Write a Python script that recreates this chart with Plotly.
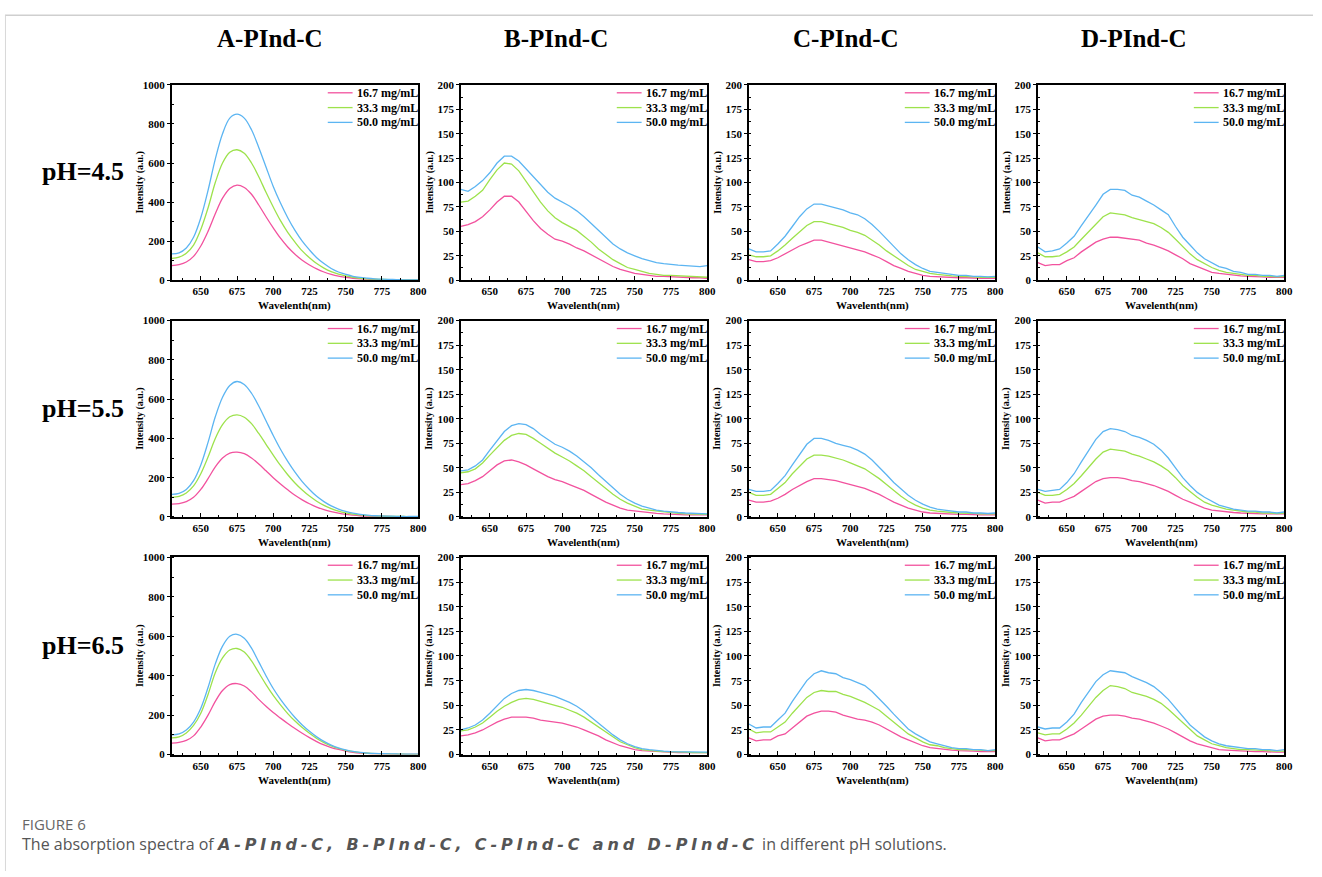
import plotly.graph_objects as go

# ---------------- DATA ----------------
wavelength = [630, 635, 640, 645, 650, 655, 660, 665, 670, 675, 680, 685, 690, 695, 700, 705, 710,
              715, 720, 725, 730, 735, 740, 745, 750, 755, 760, 765, 770, 775, 780, 785, 790, 795, 800]

compounds = ["A-PInd-C", "B-PInd-C", "C-PInd-C", "D-PInd-C"]
ph_labels = ["pH=4.5", "pH=5.5", "pH=6.5"]
series_names = ["16.7 mg/mL", "33.3 mg/mL", "50.0 mg/mL"]
y_max = [1000, 200, 200, 200]
y_dtick = [200, 25, 25, 25]

# A-PInd-C
A45_16 = [75, 80, 93, 122, 175, 250, 340, 420, 470, 487, 475, 440, 385, 325, 268, 215, 170, 133, 102, 78, 58, 42, 30, 21, 15, 10, 7, 5, 3, 2, 2, 1, 1, 1, 1]
A45_33 = [112, 118, 138, 180, 260, 370, 500, 600, 655, 668, 650, 600, 530, 450, 375, 305, 245, 195, 150, 115, 85, 62, 44, 31, 22, 15, 10, 7, 5, 4, 3, 2, 2, 1, 1]
A45_50 = [135, 140, 165, 220, 320, 460, 620, 750, 830, 850, 830, 770, 680, 580, 480, 395, 320, 255, 200, 155, 115, 85, 60, 42, 30, 20, 14, 10, 7, 5, 4, 3, 2, 2, 2]
A55_16 = [65, 68, 78, 100, 140, 195, 255, 300, 325, 330, 322, 300, 270, 235, 200, 168, 138, 110, 87, 67, 50, 37, 27, 19, 13, 9, 6, 4, 3, 2, 2, 1, 1, 1, 1]
A55_33 = [100, 105, 122, 158, 220, 305, 400, 470, 510, 520, 508, 475, 425, 370, 315, 262, 215, 173, 137, 106, 80, 59, 42, 30, 21, 14, 10, 7, 5, 4, 3, 2, 2, 1, 1]
A55_50 = [115, 120, 140, 185, 265, 380, 510, 610, 670, 690, 675, 630, 565, 490, 415, 345, 283, 228, 180, 140, 105, 78, 56, 40, 28, 19, 13, 9, 6, 5, 4, 3, 2, 2, 2]
A65_16 = [58, 62, 72, 95, 140, 200, 270, 325, 355, 360, 348, 318, 280, 245, 213, 185, 158, 132, 108, 86, 66, 49, 36, 26, 18, 12, 8, 6, 4, 3, 2, 1, 1, 1, 1]
A65_33 = [85, 90, 110, 148, 210, 305, 415, 490, 530, 538, 520, 475, 415, 355, 300, 252, 208, 170, 137, 108, 82, 61, 44, 31, 22, 15, 10, 7, 5, 4, 3, 2, 2, 1, 1]
A65_50 = [100, 105, 125, 165, 235, 340, 460, 550, 600, 610, 590, 540, 470, 400, 335, 280, 232, 188, 150, 118, 90, 67, 48, 34, 24, 16, 11, 8, 6, 5, 4, 3, 2, 2, 2]

# B-PInd-C
B45_16 = [55, 57, 60, 65, 72, 80, 86, 86, 80, 70, 61, 53, 47, 42, 40, 37, 33, 30, 26, 22, 18, 14, 11, 9, 7, 6, 5, 4, 4, 3.5, 3, 3, 2.5, 2.5, 2]
B45_33 = [80, 81, 86, 92, 103, 113, 120, 119, 112, 101, 90, 80, 71, 64, 59, 55, 51, 45, 39, 32, 26, 21, 17, 13, 11, 9, 7, 6, 5, 5, 4.5, 4, 3.5, 3, 3]
B45_50 = [93, 91, 96, 102, 110, 120, 127, 127, 122, 114, 106, 98, 90, 84, 80, 76, 71, 65, 58, 51, 44, 37, 32, 28, 25, 22, 20, 18, 17, 16, 15.5, 15, 14.5, 14, 15]
B55_16 = [33, 34, 37, 41, 47, 53, 57, 58, 56, 53, 49, 45, 41, 38, 36, 33, 30, 27, 23, 19, 15, 12, 9, 7, 6, 5, 4, 3.5, 3, 2.5, 2.5, 2, 2, 2, 2]
B55_33 = [45, 46, 49, 55, 63, 71, 78, 83, 85, 84, 80, 75, 70, 65, 61, 57, 52, 47, 41, 35, 29, 23, 18, 14, 11, 8, 7, 6, 5, 4, 3.5, 3, 3, 2.5, 2.5]
B55_50 = [47, 48, 52, 58, 68, 78, 87, 93, 95, 94, 90, 84, 79, 74, 71, 67, 62, 56, 50, 43, 36, 29, 23, 18, 14, 11, 9, 7, 6, 5, 4.5, 4, 3.5, 3, 3]
B65_16 = [19, 20, 22, 25, 29, 33, 36, 38, 38, 38, 37, 35, 34, 33, 32, 30, 28, 25, 22, 19, 15, 12, 9, 7, 5, 4, 3.5, 3, 2.5, 2, 2, 2, 2, 2, 2]
B65_33 = [24, 25, 28, 32, 38, 44, 49, 53, 56, 57, 56, 54, 52, 50, 48, 45, 42, 38, 33, 28, 23, 18, 13, 10, 7, 5, 4, 3.5, 3, 3, 2.5, 2.5, 2, 2, 2]
B65_50 = [25, 27, 30, 35, 42, 50, 57, 62, 65, 66, 65, 63, 61, 59, 56, 53, 49, 44, 38, 32, 26, 20, 15, 11, 8, 6, 5, 4, 3.5, 3, 3, 3, 2.5, 2.5, 2.5]

# C-PInd-C
C45_16 = [21, 19, 19, 20, 23, 27, 31, 35, 38, 41, 41, 39, 37, 35, 33, 31, 29, 26, 23, 19, 15, 12, 9, 7, 5, 4, 3.5, 3, 3, 2.5, 2.5, 2, 2, 2, 2]
C45_33 = [26, 24, 24, 25, 30, 36, 43, 50, 56, 60, 60, 58, 56, 54, 51, 49, 46, 41, 36, 30, 25, 20, 15, 11, 9, 7, 6, 5, 4.5, 4, 4, 3.5, 3, 3, 3]
C45_50 = [32, 29, 29, 30, 37, 45, 55, 65, 73, 78, 78, 76, 74, 72, 69, 67, 63, 57, 50, 42, 34, 27, 21, 16, 12, 9, 8, 7, 6, 5, 5, 4, 4, 3.5, 4]
C55_16 = [17, 15, 15, 16, 19, 23, 28, 32, 36, 39, 39, 38, 37, 35, 33, 31, 29, 26, 23, 19, 15, 12, 9, 7, 5, 4, 3.5, 3, 3, 2.5, 2.5, 2, 2, 2, 2]
C55_33 = [25, 22, 22, 23, 29, 35, 44, 52, 59, 63, 63, 62, 60, 58, 55, 52, 49, 44, 39, 33, 27, 21, 16, 12, 9, 7, 6, 5, 4.5, 4, 4, 3.5, 3, 3, 3]
C55_50 = [28, 26, 26, 27, 34, 42, 53, 64, 74, 80, 80, 78, 75, 73, 71, 68, 64, 58, 51, 43, 35, 28, 22, 17, 13, 10, 8, 7, 6, 5, 5, 4, 4, 3.5, 4]
C65_16 = [17, 14, 15, 15, 19, 21, 27, 33, 39, 42, 44, 44, 43, 40, 38, 36, 35, 33, 30, 26, 22, 18, 15, 12, 9, 7, 6, 5, 4.5, 4, 4, 3.5, 3, 3, 3]
C65_33 = [26, 22, 23, 23, 28, 33, 42, 50, 58, 63, 65, 64, 64, 61, 59, 56, 53, 49, 45, 39, 33, 27, 21, 17, 13, 10, 9, 7, 6, 5, 5, 4.5, 4.5, 4, 4]
C65_50 = [31, 27, 28, 28, 35, 42, 54, 65, 75, 82, 85, 83, 82, 78, 76, 73, 70, 64, 57, 49, 41, 33, 26, 21, 17, 13, 11, 9, 7, 6, 6, 5, 5, 4, 5]

# D-PInd-C
D45_16 = [18, 15, 16, 16, 20, 23, 29, 34, 39, 42, 44, 44, 43, 42, 41, 38, 36, 33, 30, 26, 22, 17, 14, 11, 8, 7, 6, 5, 4.5, 4, 4, 3.5, 3, 3, 3]
D45_33 = [28, 24, 24, 25, 29, 34, 42, 50, 58, 65, 69, 68, 67, 64, 62, 60, 58, 54, 49, 42, 34, 27, 21, 17, 13, 10, 8, 7, 6, 5, 5, 4, 4, 3.5, 4]
D45_50 = [34, 29, 30, 32, 38, 45, 56, 66, 77, 88, 93, 93, 92, 87, 85, 81, 77, 72, 67, 55, 44, 36, 28, 22, 18, 14, 12, 9, 8, 6, 6, 5, 5, 4, 5]
D55_16 = [17, 14, 15, 15, 18, 21, 26, 31, 36, 39, 40, 40, 39, 37, 36, 34, 32, 29, 26, 22, 18, 15, 12, 9, 7, 6, 5, 4.5, 4, 3.5, 3.5, 3, 3, 3, 3]
D55_33 = [25, 22, 22, 23, 28, 34, 42, 51, 59, 66, 69, 68, 67, 64, 62, 59, 56, 52, 47, 40, 32, 26, 20, 15, 12, 10, 8, 7, 6, 5, 5, 4, 4, 3.5, 4]
D55_50 = [28, 26, 27, 28, 35, 44, 56, 68, 79, 87, 90, 89, 87, 83, 81, 78, 74, 68, 60, 50, 40, 32, 25, 20, 16, 12, 10, 8, 7, 6, 6, 5, 5, 4, 5]
D65_16 = [17, 14, 15, 15, 18, 21, 26, 31, 36, 39, 40, 40, 39, 37, 36, 34, 32, 29, 26, 22, 18, 14, 11, 9, 7, 5, 4.5, 4, 3.5, 3, 3, 3, 2.5, 2.5, 2.5]
D65_33 = [22, 20, 21, 21, 26, 32, 40, 49, 58, 65, 70, 69, 67, 63, 61, 59, 56, 52, 46, 39, 32, 25, 19, 15, 11, 9, 7, 6, 5, 5, 4.5, 4, 4, 3.5, 3.5]
D65_50 = [28, 26, 27, 27, 33, 41, 53, 64, 74, 81, 85, 84, 83, 79, 76, 73, 69, 63, 56, 47, 38, 30, 24, 18, 14, 11, 9, 8, 7, 6, 6, 5, 5, 4, 5]

panel_data = [
    [[A45_16, A45_33, A45_50], [B45_16, B45_33, B45_50], [C45_16, C45_33, C45_50], [D45_16, D45_33, D45_50]],
    [[A55_16, A55_33, A55_50], [B55_16, B55_33, B55_50], [C55_16, C55_33, C55_50], [D55_16, D55_33, D55_50]],
    [[A65_16, A65_33, A65_50], [B65_16, B65_33, B65_50], [C65_16, C65_33, C65_50], [D65_16, D65_33, D65_50]],
]

# ---------------- STYLE / LAYOUT ----------------
W, H = 1322, 877
colors = ["#F2529E", "#9DE24C", "#5CB5F2"]
col_px = [(173, 421), (464, 712), (754, 1002), (1045, 1293)]
row_px = [(80, 278), (319, 518), (559, 759)]
SERIF = "Liberation Serif"


def px_x(v):
    return v / W


def px_y(v):
    return 1 - v / H


fig = go.Figure()
layout = dict(
    width=W, height=H,
    margin=dict(l=0, r=0, t=0, b=0),
    paper_bgcolor="white", plot_bgcolor="white",
    showlegend=False,
)
annotations = []
shapes = []

for r in range(3):
    for c in range(4):
        k = r * 4 + c + 1
        xa = "xaxis" if k == 1 else f"xaxis{k}"
        ya = "yaxis" if k == 1 else f"yaxis{k}"
        xref = "x" if k == 1 else f"x{k}"
        yref = "y" if k == 1 else f"y{k}"
        smooth = "spline" if c == 0 else "linear"
        x0, x1 = col_px[c]
        y0, y1 = row_px[r]
        for s in range(3):
            fig.add_trace(go.Scatter(
                x=wavelength, y=panel_data[r][c][s], mode="lines",
                name=series_names[s], line=dict(color=colors[s], width=1.3, shape=smooth),
                xaxis=xref, yaxis=yref, showlegend=False,
            ))
            # legend key (line sample + label), placed in the panel's top-right corner
            ly = y0 + 8 + 15 * s
            shapes.append(dict(
                type="line", xref="paper", yref="paper",
                x0=px_x(x1 - 91), x1=px_x(x1 - 66), y0=px_y(ly), y1=px_y(ly),
                line=dict(color=colors[s], width=1.3),
            ))
            annotations.append(dict(
                text=series_names[s], x=px_x(x1 - 64), y=px_y(ly),
                xref="paper", yref="paper", showarrow=False,
                xanchor="left", yanchor="middle",
                font=dict(family=SERIF, size=12, color="black", weight="bold"),
            ))
        layout[xa] = dict(
            domain=[px_x(x0), px_x(x1)], anchor=yref, range=[630, 800],
            tickmode="array", tickvals=[650, 675, 700, 725, 750, 775, 800],
            ticks="inside", ticklen=4, tickwidth=1, tickcolor="black",
            minor=dict(ticks="inside", ticklen=2, tickcolor="black", dtick=12.5, tick0=637.5),
            showline=True, mirror=True, linecolor="black", linewidth=1.5,
            showgrid=False, zeroline=False,
            tickfont=dict(family=SERIF, size=11, color="black", weight="bold"),
        )
        layout[ya] = dict(
            domain=[px_y(y1), px_y(y0)], anchor=xref, range=[0, y_max[c]],
            dtick=y_dtick[c], tick0=0,
            ticks="outside", ticklen=3, tickwidth=1, tickcolor="black",
            minor=dict(ticks="inside", ticklen=2, tickcolor="black", dtick=y_dtick[c] / 2),
            showline=True, mirror=True, linecolor="black", linewidth=1.5,
            showgrid=False, zeroline=False,
            tickfont=dict(family=SERIF, size=11, color="black", weight="bold"),
        )
        # axis titles
        annotations.append(dict(
            text="Intensity (a.u.)", x=px_x(x0 - 32), y=px_y((y0 + y1) / 2),
            xref="paper", yref="paper", showarrow=False, textangle=-90,
            xanchor="center", yanchor="middle",
            font=dict(family=SERIF, size=10, color="black", weight="bold"),
        ))
        annotations.append(dict(
            text="Wavelenth(nm)", x=px_x((x0 + x1) / 2), y=px_y(y1 + 26),
            xref="paper", yref="paper", showarrow=False,
            xanchor="center", yanchor="middle",
            font=dict(family=SERIF, size=11, color="black", weight="bold"),
        ))

# column titles
title_x = [272, 560, 852, 1142]
for c in range(4):
    annotations.append(dict(
        text=f"<b>{compounds[c]}</b>", x=px_x(title_x[c]), y=px_y(33),
        xref="paper", yref="paper", showarrow=False, xanchor="center", yanchor="middle",
        font=dict(family=SERIF, size=25, color="black"),
    ))
# row labels
row_y = [168, 408, 648]
for r in range(3):
    annotations.append(dict(
        text=f"<b>{ph_labels[r]}</b>", x=px_x(84), y=px_y(row_y[r]),
        xref="paper", yref="paper", showarrow=False, xanchor="center", yanchor="middle",
        font=dict(family=SERIF, size=26, color="black"),
    ))
# caption
annotations.append(dict(
    text="FIGURE 6", x=px_x(20), y=px_y(829), xref="paper", yref="paper",
    showarrow=False, xanchor="left", yanchor="middle",
    font=dict(family="Open Sans", size=15, color="#666666"),
))
annotations.append(dict(
    text=("The absorption spectra of "
          "<span style=\"font-family:DejaVu Sans;letter-spacing:3.9px\"><b><i>"
          "A-PInd-C, B-PInd-C, C-PInd-C and D-PInd-C</i></b></span>"
          " in different pH solutions."),
    x=px_x(20), y=px_y(850), xref="paper", yref="paper",
    showarrow=False, xanchor="left", yanchor="middle",
    font=dict(family="Open Sans", size=16, color="#555555"),
))
layout["annotations"] = annotations
shapes += [
    dict(type="line", xref="paper", yref="paper", x0=px_x(5), x1=1, y0=px_y(9.5), y1=px_y(9.5),
         line=dict(color="#cfcfcf", width=1.5)),
    dict(type="line", xref="paper", yref="paper", x0=px_x(5.5), x1=px_x(5.5), y0=px_y(9.5), y1=0,
         line=dict(color="#d8d8d8", width=1)),
]
layout["shapes"] = shapes
fig.update_layout(**layout)
fig.write_html("out.html", post_script="document.body.style.margin='0';document.body.style.overflow='hidden';")
